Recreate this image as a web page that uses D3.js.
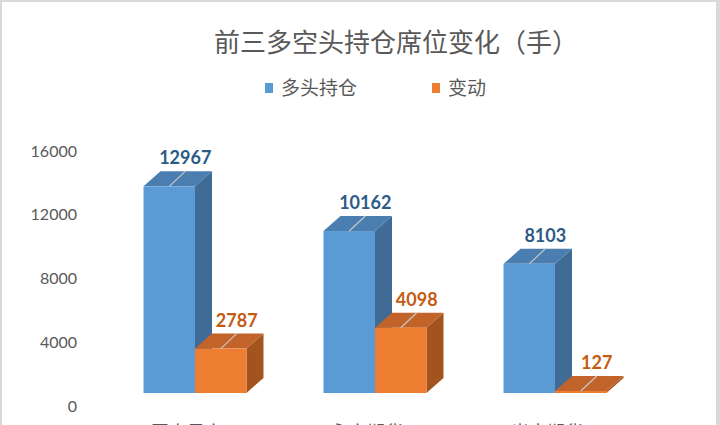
<!DOCTYPE html>
<html>
<head>
<meta charset="utf-8">
<script src="https://cdn.jsdelivr.net/npm/d3@7"></script>
<style>
  body { margin: 0; background: #d9d9d9; }
  svg { display: block; }
</style>
</head>
<body>
<script>
// data
var categories = ['国泰君安', '永安期货', '光大期货'];
var seriesNames = ['多头持仓', '变动'];
var longPos = [12967, 10162, 8103];
var change = [2787, 4098, 127];
var yTicks = [0, 4000, 8000, 12000, 16000];

var W = 720, H = 425;
var depthX = 17, depthY = -15;   // 3d offset of the back face

var faceColors = [
  {front: '#5b9bd5', top: '#4a7eb1', side: '#3f6b96', label: '#2c5a87'},
  {front: '#ed7d31', top: '#c2642a', side: '#a3531d', label: '#c55a11'}
];

var svg = d3.select('body').append('svg').attr('width', W).attr('height', H);
svg.append('rect').attr('x', 2).attr('y', 2).attr('width', 714).attr('height', H)
  .attr('fill', '#fff');

var font = "'Noto Sans CJK SC', 'Noto Sans', sans-serif";
var numFont = "Lato, 'Open Sans', sans-serif";

// title + legend
svg.append('text').attr('x', 396).attr('y', 52).attr('text-anchor', 'middle')
  .attr('font-family', font).attr('font-size', 26).attr('fill', '#595959')
  .text('前三多空头持仓席位变化（手）');

var legendX = [265, 432];
seriesNames.forEach(function(n, i) {
  svg.append('rect').attr('x', legendX[i]).attr('y', 83).attr('width', 8).attr('height', 10)
    .attr('fill', faceColors[i].front);
  svg.append('text').attr('x', legendX[i] + 16).attr('y', 95)
    .attr('font-family', font).attr('font-size', 19).attr('fill', '#595959').text(n);
});

// scales
var y = d3.scaleLinear().domain([0, 16000]).range([393, 138]);
var x0 = d3.scaleBand().domain(categories).range([105, 645])
  .paddingInner(0.428).paddingOuter(0.214);
var x1 = d3.scaleBand().domain(seriesNames).range([0, x0.bandwidth()]);

// value axis sits lower on the back wall
var axisG = svg.append('g').attr('transform', 'translate(80,13)')
  .call(d3.axisLeft(y).tickValues(yTicks).tickSize(0).tickPadding(3).tickFormat(d3.format('d')));
axisG.select('.domain').remove();
axisG.selectAll('text').attr('font-family', numFont).attr('font-size', 16).attr('fill', '#595959');

// 3d bars
var bars = [];
categories.forEach(function(c, ci) {
  [longPos[ci], change[ci]].forEach(function(v, si) {
    bars.push({cat: c, series: seriesNames[si], si: si, value: v});
  });
});

var g = svg.append('g');
bars.forEach(function(b) {
  var xl = x0(b.cat) + x1(b.series);
  var xr = xl + x1.bandwidth();
  var yt = y(b.value), yb = y(0);
  var col = faceColors[b.si];
  var bg = g.append('g');
  // side face
  bg.append('path').attr('fill', col.side)
    .attr('d', 'M' + xr + ',' + yb + 'L' + xr + ',' + yt + 'L' + (xr + depthX) + ',' + (yt + depthY)
      + 'L' + (xr + depthX) + ',' + (yb + depthY) + 'Z');
  // top face
  bg.append('path').attr('fill', col.top)
    .attr('d', 'M' + xl + ',' + yt + 'L' + xr + ',' + yt + 'L' + (xr + depthX) + ',' + (yt + depthY)
      + 'L' + (xl + depthX) + ',' + (yt + depthY) + 'Z');
  // front face
  bg.append('rect').attr('x', xl).attr('y', yt).attr('width', xr - xl).attr('height', Math.max(0, yb - yt))
    .attr('fill', col.front);
  // leader line
  var cx = (xl + xr) / 2;
  bg.append('line').attr('x1', cx).attr('y1', yt).attr('x2', cx + 16).attr('y2', yt - 15)
    .attr('stroke', '#c8c8c8').attr('stroke-width', 1.2);
  bg.append('text').attr('x', cx + 16).attr('y', yt - 22).attr('text-anchor', 'middle')
    .attr('font-family', numFont).attr('font-weight', 'bold').attr('font-size', 18)
    .attr('fill', col.label).text(b.value);
});

// category labels (cut off by the bottom edge, as in the reference)
categories.forEach(function(c) {
  svg.append('text').attr('x', x0(c) + x0.bandwidth() / 2 - 8).attr('y', 439)
    .attr('text-anchor', 'middle').attr('font-family', font).attr('font-size', 18)
    .attr('fill', '#595959').text(c);
});
</script>
</body>
</html>
